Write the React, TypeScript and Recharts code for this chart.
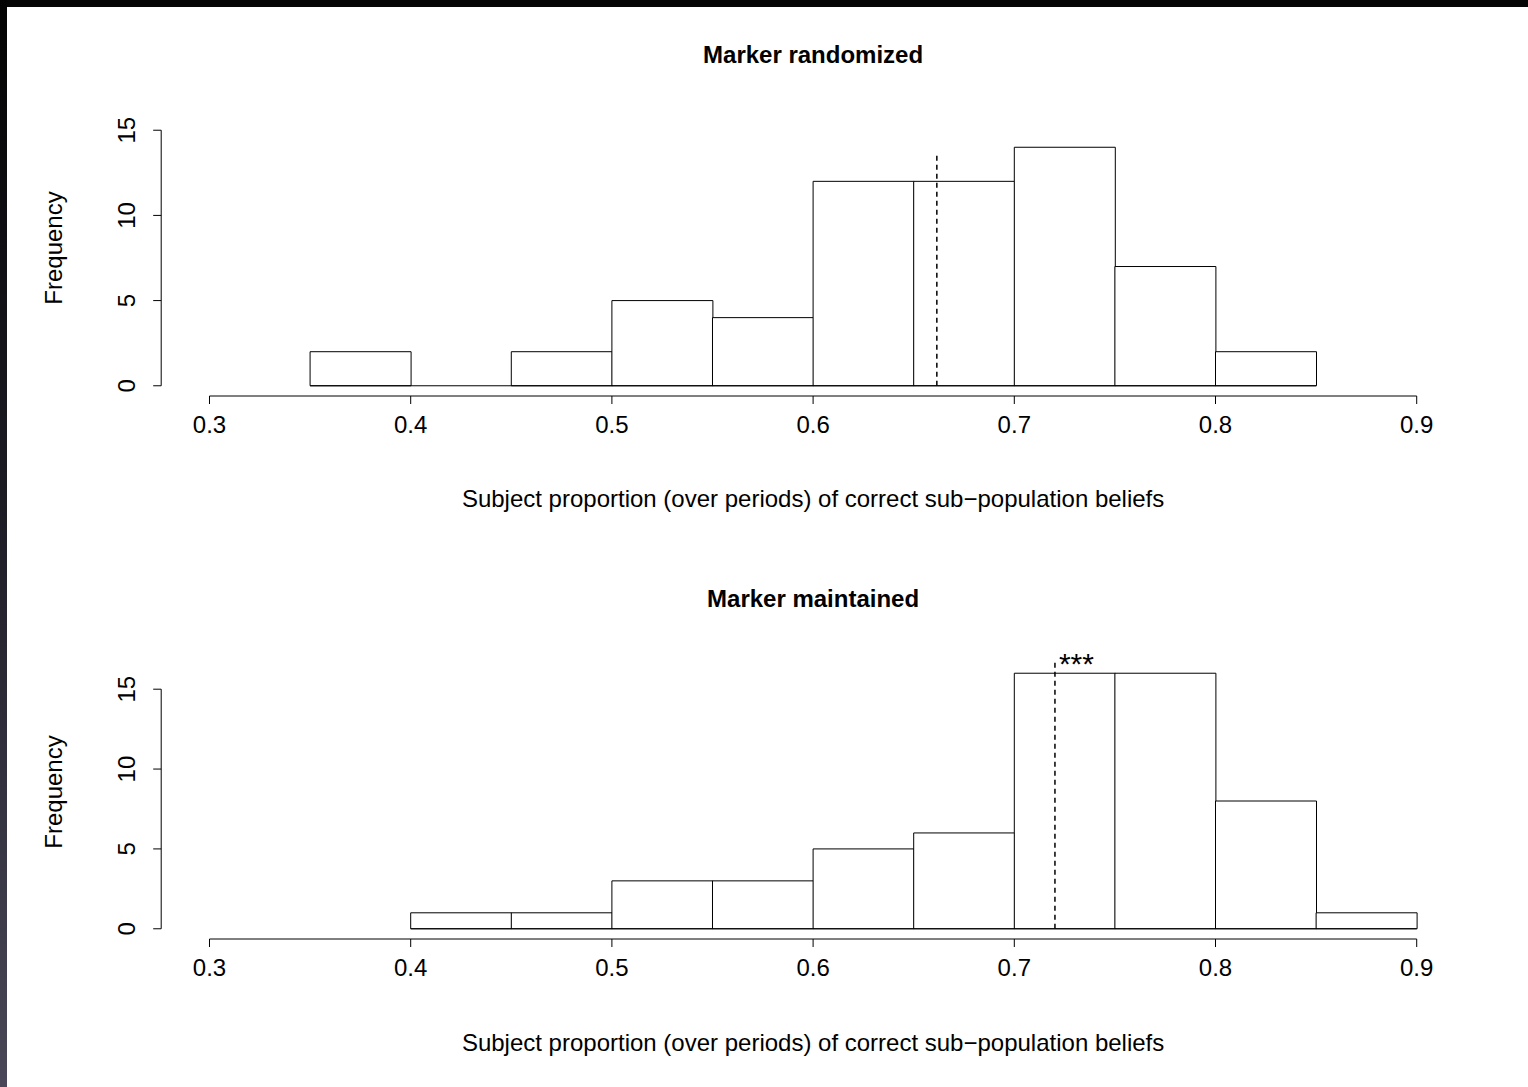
import { ComposedChart, Bar, XAxis, YAxis, ReferenceLine } from "recharts";

// histogram bins (width 0.05), given by their midpoints
const randomizedMids = [0.375, 0.425, 0.475, 0.525, 0.575, 0.625, 0.675, 0.725, 0.775, 0.825];
const randomizedCounts = [2, 0, 2, 5, 4, 12, 12, 14, 7, 2];
const maintainedMids = [0.425, 0.475, 0.525, 0.575, 0.625, 0.675, 0.725, 0.775, 0.825, 0.875];
const maintainedCounts = [1, 1, 3, 3, 5, 6, 16, 16, 8, 1];

// mean lines (dashed) and how high they reach
const randomizedMean = 0.6615;
const randomizedMeanTop = 13.7;
const maintainedMean = 0.7202;
const maintainedMeanTop = 16.8;

const xTicks = [0.3, 0.4, 0.5, 0.6, 0.7, 0.8, 0.9];
const yTicks = [0, 5, 10, 15];
const BIN_WIDTH = 0.05;

const FONT = "'Liberation Sans', Arial, Helvetica, sans-serif";
const W = 1528;
const PLOT_LEFT = 161.2;
const PLOT_W = 1303.8;
const PLOT_H = 276;
const Y_AXIS_W = 60;
const X_AXIS_H = 60;
const X_DOMAIN: [number, number] = [0.276, 0.924];

function YTick(props: any) {
  const { x, y, payload } = props;
  return (
    <text
      x={x}
      y={y}
      transform={`rotate(-90 ${x} ${y})`}
      textAnchor="middle"
      fontSize={24}
      fontFamily={FONT}
      fill="#000"
    >
      {payload.value}
    </text>
  );
}

function StarsLabel(props: any) {
  const vb = props.viewBox || {};
  return (
    <text x={(vb.x ?? 0) + 4} y={(vb.y ?? 0) + 14} fontSize={30} fontFamily={FONT} fill="#000">
      {props.text}
    </text>
  );
}

interface PanelProps {
  top: number;
  plotTop: number;
  title: string;
  mids: number[];
  counts: number[];
  ylimMax: number;
  mean: number;
  meanTop: number;
  stars?: string;
}

function Panel({ top, plotTop, title, mids, counts, ylimMax, mean, meanTop, stars }: PanelProps) {
  const data = mids.map((m, i) => ({ mid: m, count: counts[i] }));
  const yDomain: [number, number] = [-0.04 * ylimMax, 1.04 * ylimMax];
  const firstBreak = mids[0] - BIN_WIDTH / 2;
  const lastBreak = mids[mids.length - 1] + BIN_WIDTH / 2;
  const chartH = plotTop + PLOT_H + X_AXIS_H + 10;
  const cx = PLOT_LEFT + PLOT_W / 2;

  return (
    <div style={{ position: "absolute", left: 0, top, width: W, height: 544 }}>
      <ComposedChart
        width={W}
        height={chartH}
        data={data}
        margin={{ top: plotTop, right: W - PLOT_LEFT - PLOT_W, bottom: 10, left: PLOT_LEFT - Y_AXIS_W }}
        barCategoryGap={0}
        barGap={0}
      >
        <XAxis
          type="number"
          dataKey="mid"
          domain={X_DOMAIN}
          allowDataOverflow
          ticks={xTicks}
          interval={0}
          axisLine={false}
          tickLine={{ stroke: "#000" }}
          tickSize={8}
          tickMargin={12}
          height={X_AXIS_H}
          tick={{ fill: "#000", fontSize: 24, fontFamily: FONT }}
        />
        <YAxis
          type="number"
          domain={yDomain}
          allowDataOverflow
          ticks={yTicks}
          interval={0}
          axisLine={false}
          tickLine={{ stroke: "#000" }}
          tickSize={8}
          tickMargin={18.6}
          width={Y_AXIS_W}
          tick={<YTick />}
        />
        {/* axis lines that only span the ticks, like R */}
        <ReferenceLine
          segment={[{ x: xTicks[0], y: yDomain[0] }, { x: xTicks[xTicks.length - 1], y: yDomain[0] }]}
          stroke="#000"
          ifOverflow="visible"
        />
        <ReferenceLine
          segment={[{ x: X_DOMAIN[0], y: yTicks[0] }, { x: X_DOMAIN[0], y: yTicks[yTicks.length - 1] }]}
          stroke="#000"
          ifOverflow="visible"
        />
        {/* baseline under the bins (shows empty bins) */}
        <ReferenceLine
          segment={[{ x: firstBreak, y: 0 }, { x: lastBreak, y: 0 }]}
          stroke="#000"
          ifOverflow="visible"
        />
        <Bar dataKey="count" fill="#fff" stroke="#000" strokeWidth={1} isAnimationActive={false} />
        <ReferenceLine
          segment={[{ x: mean, y: 0 }, { x: mean, y: meanTop }]}
          stroke="#000"
          strokeWidth={1.5}
          strokeDasharray="5 4"
          ifOverflow="visible"
          label={stars ? <StarsLabel text={stars} /> : undefined}
        />
      </ComposedChart>

      <svg
        width={W}
        height={544}
        style={{ position: "absolute", left: 0, top: 0, pointerEvents: "none" }}
      >
        <text x={cx} y={63} textAnchor="middle" fontSize={24} fontWeight="bold" fontFamily={FONT} fill="#000">
          {title}
        </text>
        <text x={cx} y={506.5} textAnchor="middle" fontSize={24} fontFamily={FONT} fill="#000">
          Subject proportion (over periods) of correct sub−population beliefs
        </text>
        <text
          x={62}
          y={248}
          transform="rotate(-90 62 248)"
          textAnchor="middle"
          fontSize={24}
          fontFamily={FONT}
          fill="#000"
        >
          Frequency
        </text>
      </svg>
    </div>
  );
}

export default function App() {
  return (
    <div
      style={{
        position: "absolute",
        left: 0,
        top: 0,
        width: W,
        height: 1087,
        background: "#fff",
        overflow: "hidden",
      }}
    >
      <Panel
        top={0}
        plotTop={120}
        title="Marker randomized"
        mids={randomizedMids}
        counts={randomizedCounts}
        ylimMax={15}
        mean={randomizedMean}
        meanTop={randomizedMeanTop}
      />
      <Panel
        top={544}
        plotTop={119}
        title="Marker maintained"
        mids={maintainedMids}
        counts={maintainedCounts}
        ylimMax={16}
        mean={maintainedMean}
        meanTop={maintainedMeanTop}
        stars="***"
      />
      {/* dark frame edges of the screenshot */}
      <div style={{ position: "absolute", left: 0, top: 0, width: W, height: 7, background: "#050505" }} />
      <div
        style={{
          position: "absolute",
          left: 0,
          top: 0,
          width: 7,
          height: 1087,
          background: "linear-gradient(#030303 0%, #1c1b24 45%, #4a4858 100%)",
        }}
      />
    </div>
  );
}
